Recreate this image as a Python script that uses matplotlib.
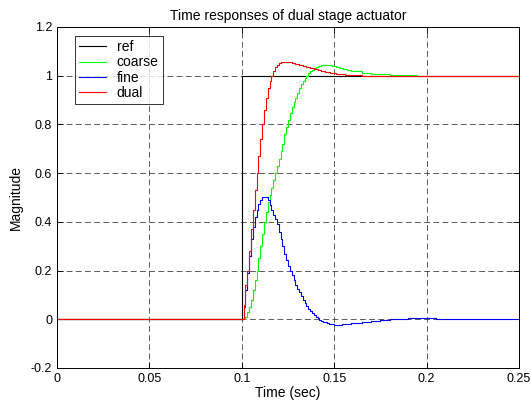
import numpy as np
import matplotlib.pyplot as plt

plt.rcParams['font.family'] = ['Liberation Sans', 'DejaVu Sans']

# sample instants (1 ms during the transient, 5 ms afterwards)
t_fast = np.round(np.arange(0.100, 0.1605, 0.001), 3)
t_slow = np.round(np.arange(0.165, 0.2505, 0.005), 3)
t_resp = np.concatenate(([0.0], t_fast, t_slow))

ref = [0.0] + [1.0] * (len(t_fast) + len(t_slow))

coarse = [0.0,
          0.0, 0.0, 0.01, 0.03, 0.05, 0.08, 0.12, 0.16, 0.2, 0.25,
          0.3, 0.35, 0.4, 0.44, 0.48, 0.51, 0.54, 0.57, 0.6, 0.63,
          0.66, 0.69, 0.72, 0.76, 0.79, 0.82, 0.845, 0.87, 0.89, 0.91,
          0.93, 0.95, 0.965, 0.98, 0.99, 1.0, 1.01, 1.018, 1.025, 1.031,
          1.036, 1.039, 1.041, 1.043, 1.044, 1.044, 1.044, 1.043, 1.042, 1.041,
          1.039, 1.037, 1.035, 1.033, 1.031, 1.029, 1.027, 1.025, 1.023, 1.021,
          1.019,
          1.013, 1.009, 1.006, 1.003, 1.002, 1.001, 1.0, 1.0, 1.0,
          1.0, 1.0, 1.0, 1.0, 1.0, 1.0, 1.0, 1.0, 1.0]

fine = [0.0,
        0.0, 0.05, 0.12, 0.19, 0.26, 0.33, 0.38, 0.42, 0.45, 0.475,
        0.49, 0.5, 0.503, 0.5, 0.49, 0.47, 0.45, 0.43, 0.41, 0.39,
        0.36, 0.33, 0.30, 0.27, 0.245, 0.22, 0.2, 0.18, 0.16, 0.14,
        0.125, 0.11, 0.095, 0.08, 0.068, 0.055, 0.044, 0.034, 0.025, 0.017,
        0.01, 0.004, -0.001, -0.006, -0.01, -0.013, -0.016, -0.018, -0.02, -0.021,
        -0.022, -0.022, -0.022, -0.022, -0.021, -0.021, -0.02, -0.019, -0.018, -0.017,
        -0.016,
        -0.011, -0.006, -0.002, 0.001, 0.003, 0.004, 0.004, 0.004, 0.003,
        0.002, 0.001, 0.0, 0.0, 0.0, 0.0, 0.0, 0.0, 0.0]

dual = [0.0,
        0.0, 0.06, 0.14, 0.2, 0.28, 0.37, 0.45, 0.53, 0.6, 0.67,
        0.74, 0.8, 0.86, 0.91, 0.95, 0.98, 1.0, 1.02, 1.035, 1.045,
        1.052, 1.056, 1.058, 1.058, 1.058, 1.057, 1.055, 1.053, 1.051, 1.049,
        1.047, 1.045, 1.043, 1.041, 1.039, 1.036, 1.034, 1.032, 1.030, 1.028,
        1.026, 1.024, 1.022, 1.020, 1.019, 1.017, 1.016, 1.014, 1.013, 1.012,
        1.011, 1.009, 1.008, 1.007, 1.006, 1.005, 1.004, 1.003, 1.002, 1.001,
        1.001,
        1.0, 1.0, 1.0, 1.0, 1.0, 1.0, 1.0, 1.0, 1.0,
        1.0, 1.0, 1.0, 1.0, 1.0, 1.0, 1.0, 1.0, 1.0]

fig = plt.figure(figsize=(5.31, 4.01), dpi=100)
ax = fig.add_axes([0.1073, 0.0823, 0.8701, 0.8504])

ax.plot(t_resp, ref, color='k', lw=0.8, drawstyle='steps-post', label='ref')
ax.plot(t_resp, coarse, color=(0, 1, 0), lw=0.8, drawstyle='steps-post', label='coarse')
ax.plot(t_resp, fine, color=(0, 0, 1), lw=0.8, drawstyle='steps-post', label='fine')
ax.plot(t_resp, dual, color=(1, 0, 0), lw=0.8, drawstyle='steps-post', label='dual')

ax.set_xlim(0, 0.25)
ax.set_ylim(-0.2, 1.2)
ax.set_xticks([0, 0.05, 0.1, 0.15, 0.2, 0.25])
ax.set_xticklabels(['0', '0.05', '0.1', '0.15', '0.2', '0.25'])
ax.set_yticks([-0.2, 0, 0.2, 0.4, 0.6, 0.8, 1, 1.2])
ax.set_yticklabels(['-0.2', '0', '0.2', '0.4', '0.6', '0.8', '1', '1.2'])
ax.tick_params(direction='in', length=4, width=0.6, labelsize=9,
               top=True, right=True, pad=3.5)
ax.grid(True, color='0.25', ls=(0, (7, 4)), lw=0.6)
for s in ax.spines.values():
    s.set_linewidth(0.7)

ax.set_title('Time responses of dual stage actuator', fontsize=10, pad=5)
ax.set_xlabel('Time (sec)', fontsize=10, labelpad=1)
ax.set_ylabel('Magnitude', fontsize=10, labelpad=6)

leg = ax.legend(loc='upper left', fontsize=10, frameon=True, fancybox=False,
                handlelength=1.9, handletextpad=0.8, borderpad=0.3,
                labelspacing=0.1, borderaxespad=0,
                bbox_to_anchor=(0.039, 0.974))
leg.get_frame().set_edgecolor('k')
leg.get_frame().set_linewidth(0.7)

fig.savefig('out.png', dpi=100)
